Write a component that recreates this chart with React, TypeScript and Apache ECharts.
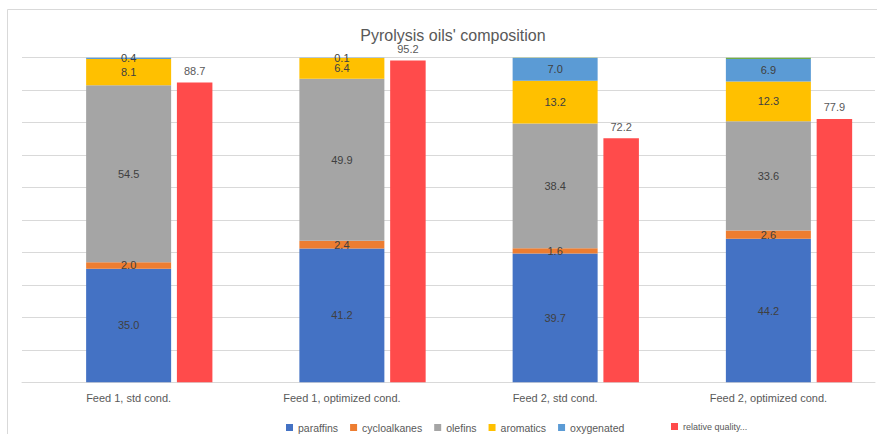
import React, { useEffect, useRef } from "react";
import * as echarts from "echarts";

const categories = [
  "Feed 1, std cond.",
  "Feed 1, optimized cond.",
  "Feed 2, std cond.",
  "Feed 2, optimized cond.",
];
const paraffins = [35.0, 41.2, 39.7, 44.2];
const cycloalkanes = [2.0, 2.4, 1.6, 2.6];
const olefins = [54.5, 49.9, 38.4, 33.6];
const aromatics = [8.1, 6.4, 13.2, 12.3];
const oxygenated = [0.4, 0.1, 7.0, 6.9];
const other = [0, 0, 0.1, 0.4];
const relativeQuality = [88.7, 95.2, 72.2, 77.9];

const FONT = "Liberation Sans, Arial, sans-serif";

export default function App() {
  const ref = useRef<HTMLDivElement>(null);
  useEffect(() => {
    if (!ref.current) return;
    const chart = echarts.init(ref.current, null, { renderer: "svg" });
    const segLabel = {
      show: true,
      position: "inside",
      color: "#404040",
      fontSize: 11,
      fontFamily: FONT,
      formatter: (p: any) => Number(p.value).toFixed(1),
    };
    const stacked = (name: string, data: number[], color: string, label = true) => ({
      name,
      type: "bar",
      stack: "comp",
      xAxisIndex: 0,
      yAxisIndex: 0,
      barWidth: 85,
      data,
      itemStyle: { color },
      label: label ? segLabel : { show: false },
    });
    chart.setOption({
      animation: false,
      backgroundColor: "#fff",
      title: {
        text: "Pyrolysis oils' composition",
        left: 448,
        textAlign: "center",
        top: 22,
        textStyle: { fontSize: 16, fontWeight: "normal", color: "#595959", fontFamily: FONT },
      },
      graphic: [
        {
          type: "rect",
          shape: { x: 7.5, y: 9.5, width: 900, height: 500 },
          style: { fill: "none", stroke: "#D9D9D9", lineWidth: 1 },
          silent: true,
          z: -1,
        },
      ],
      legend: [
        {
          data: ["paraffins", "cycloalkanes", "olefins", "aromatics", "oxygenated"],
          left: 281,
          top: 417,
          icon: "rect",
          itemWidth: 7,
          itemHeight: 7,
          itemGap: 12,
          textStyle: { fontSize: 10.5, color: "#595959", fontFamily: FONT },
        },
        {
          data: ["relative quality..."],
          left: 666,
          top: 417,
          icon: "rect",
          itemWidth: 7,
          itemHeight: 7,
          textStyle: { fontSize: 9, color: "#595959", fontFamily: FONT },
        },
      ],
      grid: { left: 22, right: 2, top: 57.7, bottom: 51.7, containLabel: false },
      xAxis: [
        {
          type: "category",
          data: categories,
          axisLine: { lineStyle: { color: "#D9D9D9" } },
          axisTick: { show: false },
          axisLabel: { color: "#595959", fontSize: 11, fontFamily: FONT, margin: 10 },
        },
        {
          type: "category",
          data: categories,
          show: false,
        },
      ],
      yAxis: [
        {
          type: "value",
          min: 0,
          max: 100,
          interval: 10,
          axisLabel: { show: false },
          axisLine: { show: false },
          axisTick: { show: false },
          splitLine: { lineStyle: { color: "#D9D9D9" } },
        },
        {
          type: "value",
          min: 0,
          max: 96,
          show: false,
          splitLine: { show: false },
        },
      ],
      series: [
        stacked("paraffins", paraffins, "#4472C4"),
        stacked("cycloalkanes", cycloalkanes, "#ED7D31"),
        stacked("olefins", olefins, "#A5A5A5"),
        stacked("aromatics", aromatics, "#FFC000"),
        stacked("oxygenated", oxygenated, "#5B9BD5"),
        stacked("other", other, "#70AD47", false),
        {
          name: "spacer",
          type: "bar",
          xAxisIndex: 1,
          yAxisIndex: 1,
          barWidth: 35.5,
          barGap: "272%",
          data: [0, 0, 0, 0],
          itemStyle: { color: "rgba(0,0,0,0)" },
          silent: true,
        },
        {
          name: "relative quality...",
          type: "bar",
          xAxisIndex: 1,
          yAxisIndex: 1,
          barWidth: 35.5,
          barGap: "272%",
          data: relativeQuality,
          itemStyle: { color: "#FF4B4B" },
          label: {
            show: true,
            position: "top",
            distance: 6,
            color: "#595959",
            fontSize: 11,
            fontFamily: FONT,
            formatter: (p: any) => Number(p.value).toFixed(1),
          },
        },
      ],
    });
    return () => chart.dispose();
  }, []);
  return (
    <div
      ref={ref}
      style={{ position: "fixed", left: 0, top: 0, width: 877, height: 434 }}
    />
  );
}
